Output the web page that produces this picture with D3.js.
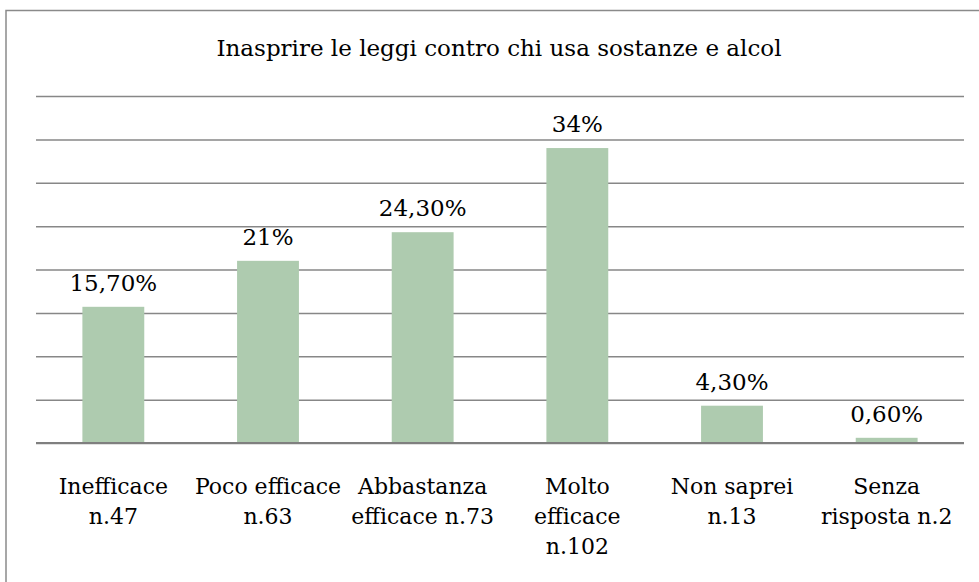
<!DOCTYPE html>
<html>
<head>
<meta charset="utf-8">
<script src="https://cdn.jsdelivr.net/npm/d3@7"></script>
<style>
  body { margin: 0; background: #fff; }
  text { font-family: "DejaVu Serif", "Liberation Serif", serif; fill: #000; }
</style>
</head>
<body>
<div id="chart"></div>
<script>
// dati
const categories = ["Inefficace\nn.47", "Poco efficace\nn.63", "Abbastanza\nefficace n.73",
                    "Molto\nefficace\nn.102", "Non saprei\nn.13", "Senza\nrisposta n.2"];
const values = [15.7, 21, 24.3, 34, 4.3, 0.6];
const valueLabels = ["15,70%", "21%", "24,30%", "34%", "4,30%", "0,60%"];
const yTicks = [0, 5, 10, 15, 20, 25, 30, 35, 40];
const title = "Inasprire le leggi contro chi usa sostanze e alcol";

const W = 979, H = 582;
const margin = { top: 96, right: 15, bottom: 139, left: 36 };
const width = W - margin.left - margin.right,
      height = H - margin.top - margin.bottom;

const root = d3.select("#chart").append("svg")
    .attr("width", W)
    .attr("height", H);

// cornice (esce dal bordo a destra e in basso)
root.append("rect")
    .attr("x", 6).attr("y", 10.5)
    .attr("width", W + 20).attr("height", H + 20)
    .attr("fill", "none")
    .attr("stroke", "#8a8a8a")
    .attr("stroke-width", 1.5);

root.append("text")
    .attr("x", 499).attr("y", 56)
    .attr("text-anchor", "middle")
    .style("font-size", "23px")
    .text(title);

const svg = root.append("g")
    .attr("transform", `translate(${margin.left},${margin.top})`);

const x = d3.scaleBand()
    .domain(categories)
    .range([0, width])
    .paddingInner(0.6)
    .paddingOuter(0.3);

const y = d3.scaleLinear()
    .domain([0, 40])
    .range([height, 0]);

// griglia
svg.append("g")
    .call(d3.axisLeft(y).tickValues(yTicks).tickSize(-width).tickFormat(""))
    .call(g => g.select(".domain").remove())
    .selectAll("line")
    .attr("stroke", "#878787")
    .attr("stroke-width", 1.5);

svg.selectAll("rect.bar")
    .data(values)
    .enter()
    .append("rect")
    .attr("class", "bar")
    .attr("x", (d, i) => x(categories[i]))
    .attr("y", d => y(d))
    .attr("width", x.bandwidth())
    .attr("height", d => height - y(d))
    .attr("fill", "#aecbaf");

// asse x (linea di base)
svg.append("line")
    .attr("x1", 0).attr("x2", width)
    .attr("y1", height).attr("y2", height)
    .attr("stroke", "#7f7f7f")
    .attr("stroke-width", 2);

svg.selectAll("text.val")
    .data(values)
    .enter()
    .append("text")
    .attr("class", "val")
    .attr("x", (d, i) => x(categories[i]) + x.bandwidth() / 2)
    .attr("y", d => y(d) - 16)
    .attr("text-anchor", "middle")
    .style("font-size", "23px")
    .text((d, i) => valueLabels[i]);

const lab = svg.selectAll("text.cat")
    .data(categories)
    .enter()
    .append("text")
    .attr("class", "cat")
    .attr("text-anchor", "middle")
    .attr("transform", d => `translate(${x(d) + x.bandwidth() / 2},${height + 51})`)
    .style("font-size", "22px");

lab.selectAll("tspan")
    .data(d => d.split("\n"))
    .enter()
    .append("tspan")
    .attr("x", 0)
    .attr("y", (d, i) => i * 30)
    .text(d => d);
</script>
</body>
</html>
